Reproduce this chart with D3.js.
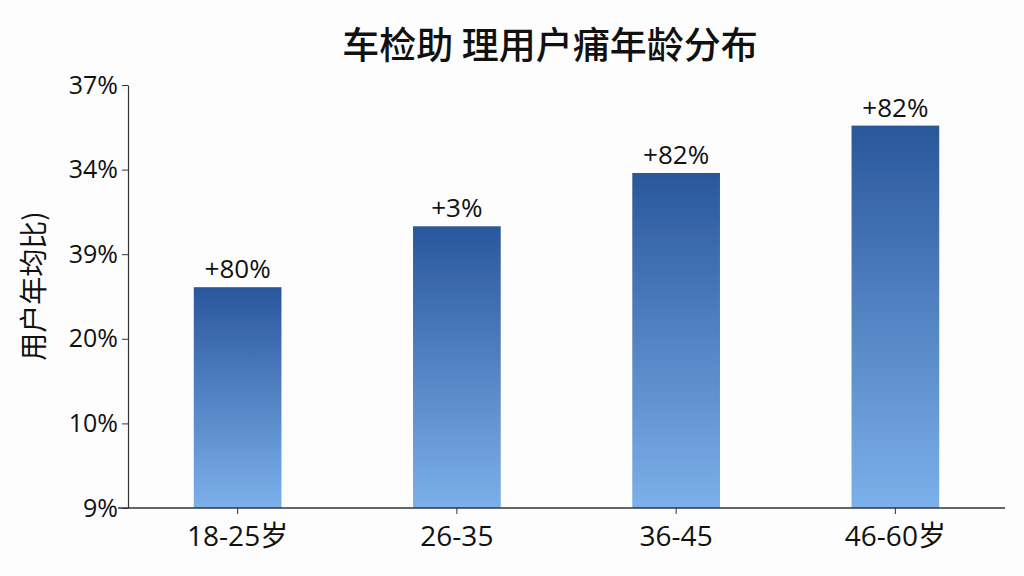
<!DOCTYPE html>
<html>
<head>
<meta charset="utf-8">
<script src="https://cdn.jsdelivr.net/npm/d3@7"></script>
<style>
  body { margin: 0; background: #fdfdfd; }
  text { font-family: "Open Sans", "Noto Sans CJK SC", sans-serif; fill: #111; }
</style>
</head>
<body>
<script>
const title = '车检助 理用户痡年龄分布'
const yLabel = '用户年均比)'
const ageGroups = ['18-25岁', '26-35', '36-45', '46-60岁']
const barValues = [26.1, 33.3, 39.6, 45.2]
const barLabels = ['+80%', '+3%', '+82%', '+82%']
const tickValues = [0, 10, 20, 30, 40, 50]
const tickLabels = ['9%', '10%', '20%', '39%', '34%', '37%']

const width = 1024
const height = 576
const plotLeft = 128
const plotRight = 1005
const plotTop = 85
const plotBottom = 508

const svg = d3.select('body')
    .append('svg')
    .attr('width', width)
    .attr('height', height)

const grad = svg.append('defs').append('linearGradient')
    .attr('id', 'barGrad')
    .attr('x1', 0).attr('y1', 0).attr('x2', 0).attr('y2', 1)
grad.append('stop').attr('offset', '0%').attr('stop-color', '#2a579c')
grad.append('stop').attr('offset', '100%').attr('stop-color', '#7cb0ea')

const x = d3.scaleBand()
    .domain(ageGroups)
    .range([plotLeft, plotRight])
    .paddingInner(0.6)
    .paddingOuter(0.3)

const y = d3.scaleLinear()
    .domain([0, 50])
    .range([plotBottom, plotTop])

// title
svg.append('text')
    .attr('x', 550)
    .attr('y', 59)
    .attr('text-anchor', 'middle')
    .style('font-family', '"Noto Sans CJK SC", sans-serif')
    .style('font-size', '37px')
    .style('font-weight', 500)
    .text(title)

// y axis
const yAxis = svg.append('g')
    .attr('transform', `translate(${plotLeft},0)`)
    .call(d3.axisLeft(y).tickValues(tickValues).tickFormat((d, i) => tickLabels[i]).tickSize(6).tickSizeOuter(0))
yAxis.select('.domain').attr('stroke', '#333').attr('stroke-width', 1.2)
yAxis.selectAll('.tick line').attr('stroke', '#333')
yAxis.selectAll('.tick text')
    .attr('x', -10)
    .style('font-size', '25px')
    .attr('fill', '#111')

// y label
svg.append('text')
    .attr('transform', 'translate(44,286) rotate(-90)')
    .attr('text-anchor', 'middle')
    .style('font-family', '"Noto Sans CJK SC", sans-serif')
    .style('font-size', '28px')
    .text(yLabel)

// bars
svg.selectAll('rect.bar')
    .data(ageGroups)
    .enter()
    .append('rect')
    .attr('class', 'bar')
    .attr('x', d => x(d))
    .attr('width', x.bandwidth())
    .attr('y', (d, i) => y(barValues[i]))
    .attr('height', (d, i) => plotBottom - y(barValues[i]))
    .attr('fill', 'url(#barGrad)')

// value labels
svg.selectAll('text.val')
    .data(ageGroups)
    .enter()
    .append('text')
    .attr('class', 'val')
    .attr('x', d => x(d) + x.bandwidth() / 2)
    .attr('y', (d, i) => y(barValues[i]) - 9)
    .attr('text-anchor', 'middle')
    .style('font-size', '26px')
    .text((d, i) => barLabels[i])

// x axis
const xAxis = svg.append('g')
    .attr('transform', `translate(0,${plotBottom})`)
    .call(d3.axisBottom(x).tickSize(6).tickSizeOuter(0))
xAxis.select('.domain').attr('stroke', '#333').attr('stroke-width', 1.5)
    .attr('d', `M${plotLeft - 10},0H${plotRight}`)
xAxis.selectAll('.tick line').attr('stroke', '#333')
xAxis.selectAll('.tick text')
    .attr('y', 18)
    .style('font-size', '28px')
    .attr('fill', '#111')
</script>
</body>
</html>
